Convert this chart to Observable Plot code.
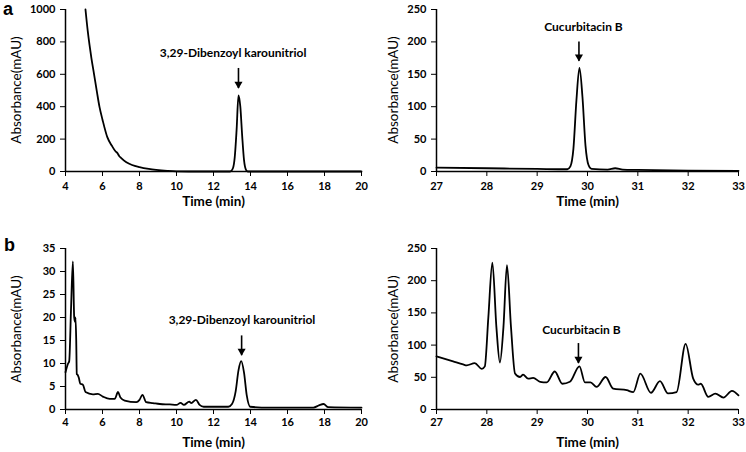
<!DOCTYPE html>
<html><head><meta charset="utf-8">
<script src="https://cdn.jsdelivr.net/npm/d3@7"></script>
<script src="https://cdn.jsdelivr.net/npm/@observablehq/plot@0.6"></script>
<style>
body{margin:0;background:#fff;}
#wrap{position:relative;width:746px;height:452px;overflow:hidden;background:#fff;}
.panel{position:absolute;}
.letter{position:absolute;font-weight:bold;font-size:18px;font-family:"Liberation Sans",Arial,sans-serif;line-height:1;}
.ylab{position:absolute;white-space:nowrap;font-family:Lato,'Open Sans',sans-serif;font-size:13.5px;line-height:1;transform:translate(-50%,-50%) rotate(-90deg);}
</style></head><body><div id="wrap"></div>
<script>
// ---- data: [time (min), absorbance (mAU)] ----
const traceA1 = [[5.08,1000],[5.2,870],[5.3,780],[5.4,700],[5.54,603],[5.7,490],[5.84,397],[6.0,320],[6.26,212],[6.5,160],[6.7,125],[6.8,115],[6.9,96],[7.0,84],[7.29,57],[7.6,40],[8.0,27],[8.5,16],[8.9,10],[9.5,4],[10,1],[11,0],[12.9,0],[13.05,20],[13.15,90],[13.25,260],[13.35,470],[13.45,400],[13.55,220],[13.65,70],[13.75,12],[13.85,0],[20,0]];
const traceA2 = [[27,6],[28,5],[29,4],[29.6,3.5],[29.66,8],[29.72,35],[29.78,110],[29.84,160],[29.9,115],[29.96,40],[30.02,10],[30.08,4],[30.4,3],[30.55,5],[30.7,3],[31,2.5],[32,1.5],[33,1]];
const traceB1 = [[4,8.1],[4.13,9.9],[4.2,10.5],[4.3,22],[4.4,32.2],[4.47,20],[4.52,19],[4.54,20],[4.58,15],[4.61,7.7],[4.66,7.5],[4.72,6.9],[4.8,5.6],[4.94,5.4],[5.08,3.8],[5.48,3.3],[5.75,3.4],[6.02,2.8],[6.39,2.3],[6.66,2.3],[6.84,3.8],[6.97,2.6],[7.2,1.95],[7.83,1.6],[8.0,2.1],[8.16,3.2],[8.36,1.6],[8.73,1.4],[9.1,1.2],[9.64,1.1],[10.0,1.0],[10.22,1.45],[10.4,1.0],[10.69,1.7],[10.8,1.4],[11.05,2.1],[11.25,1.0],[11.47,0.6],[12.8,0.6],[13.0,1.2],[13.2,4],[13.35,8.5],[13.5,10.5],[13.65,8],[13.8,3],[13.98,0.6],[15,0.4],[17.4,0.4],[17.7,0.9],[17.95,1.2],[18.2,0.5],[20,0.4]];
const traceB2 = [[27,82.5],[27.33,74.7],[27.53,70],[27.6,68.6],[27.76,72],[27.9,63],[27.96,67],[28.03,143],[28.11,228],[28.19,128],[28.26,73],[28.33,128],[28.4,224],[28.48,128],[28.56,56],[28.66,50.5],[28.72,54],[28.82,48],[28.92,49],[29.06,43],[29.19,42],[29.35,59],[29.5,40],[29.65,43],[29.84,67],[29.95,42],[30.06,42],[30.18,35],[30.36,50.5],[30.51,32.5],[30.78,30],[30.91,27],[31.05,55.7],[31.26,26],[31.44,44],[31.6,25],[31.77,27],[31.95,102],[32.1,48],[32.2,38.6],[32.25,40],[32.4,19.6],[32.54,24.7],[32.7,18.5],[32.87,29],[33,22]];

const xTicksEarly = [4,6,8,10,12,14,16,18,20];
const xTicksLate = [27,28,29,30,31,32,33];
const yTicksA1 = [0,200,400,600,800,1000];
const yTicksA2 = [0,50,100,150,200,250];
const yTicksB1 = [0,5,10,15,20,25,30,35];
const yTicksB2 = [0,50,100,150,200,250];

const compoundEarly = "3,29-Dibenzoyl karounitriol";
const compoundLate = "Cucurbitacin B";
const xLabel = "Time (min)";
const yLabel = "Absorbance(mAU)";

// annotation anchor values (data units): label, x, text x/y, arrow top, arrow tip
const annotA1 = {label: compoundEarly, x: 13.35, tx: 13.06, ty: 730, top: 636, tip: 512};
const annotA2 = {label: compoundLate, x: 29.83, tx: 29.92, ty: 222, top: 200, tip: 170};
const annotB1 = {label: compoundEarly, x: 13.52, tx: 13.54, ty: 19.5, top: 16.0, tip: 11.7};
const annotB2 = {label: compoundLate, x: 29.82, tx: 29.88, ty: 122.6, top: 102.4, tip: 71.4};

const wrap = document.getElementById("wrap");
const FONT = "Lato, 'Open Sans', sans-serif";

function panel({trace, xDomain, xTicks, yDomain, yTicks, left, top, width, height, mL, mR, mT, mB, yLabX, xLabDy, xPad, annot}) {
  const rows = trace.map(([t, a]) => ({t, a}));
  const chart = Plot.plot({
    width, height,
    marginLeft: mL, marginRight: mR, marginTop: mT, marginBottom: mB,
    style: {fontFamily: FONT, fontSize: "11px", fontWeight: "bold", color: "black", background: "white", overflow: "visible"},
    x: {domain: xDomain, ticks: xTicks, tickFormat: d => String(d), tickSize: 5, tickPadding: xPad, label: null},
    y: {domain: yDomain, ticks: yTicks, tickFormat: d => String(d), tickSize: 5, tickPadding: 5, label: null},
    marks: [
      Plot.ruleX([xDomain[0]], {stroke: "black", strokeWidth: 1.5}),
      Plot.ruleY([0], {stroke: "black", strokeWidth: 1.5}),
      Plot.line(rows, {x: "t", y: "a", stroke: "black", strokeWidth: 1.8, curve: "monotone-x"}),
      Plot.ruleX([annot], {x: "x", y1: "top", y2: "tip", stroke: "black", strokeWidth: 1.6}),
      Plot.dot([annot], {x: "x", y: "tip", symbol: "triangle", r: 3, fill: "black", stroke: "none", rotate: 180, dy: -4.5}),
      Plot.text([annot], {x: "tx", y: "ty", text: "label", fontWeight: "bold", fontSize: 12, fill: "black"}),
      Plot.text([xLabel], {frameAnchor: "bottom", dy: xLabDy, fontSize: 13.5, fontWeight: "bold", fill: "black"})
    ]
  });
  const d = document.createElement("div");
  d.className = "panel";
  d.style.left = left + "px";
  d.style.top = top + "px";
  d.appendChild(chart);
  wrap.appendChild(d);
  const yl = document.createElement("div");
  yl.className = "ylab";
  yl.textContent = yLabel;
  yl.style.left = (left + yLabX) + "px";
  yl.style.top = (top + mT + (height - mT - mB) / 2) + "px";
  wrap.appendChild(yl);
}

panel({trace: traceA1, xDomain: [4, 20], xTicks: xTicksEarly, yDomain: [0, 1000], yTicks: yTicksA1,
  left: 0, top: 0, width: 373, height: 215, mL: 65, mR: 12, mT: 9, mB: 44, yLabX: 17, xLabDy: 34, xPad: 6, annot: annotA1});
panel({trace: traceA2, xDomain: [27, 33], xTicks: xTicksLate, yDomain: [0, 250], yTicks: yTicksA2,
  left: 373, top: 0, width: 373, height: 215, mL: 63, mR: 8, mT: 9, mB: 44, yLabX: 21, xLabDy: 34, xPad: 6, annot: annotA2});
panel({trace: traceB1, xDomain: [4, 20], xTicks: xTicksEarly, yDomain: [0, 35], yTicks: yTicksB1,
  left: 0, top: 215, width: 373, height: 237, mL: 65, mR: 12, mT: 33, mB: 43, yLabX: 17, xLabDy: 37, xPad: 4, annot: annotB1});
panel({trace: traceB2, xDomain: [27, 33], xTicks: xTicksLate, yDomain: [0, 250], yTicks: yTicksB2,
  left: 373, top: 215, width: 373, height: 237, mL: 63, mR: 8, mT: 33, mB: 43, yLabX: 21, xLabDy: 37, xPad: 4, annot: annotB2});

for (const [txt, l, t] of [["a", 3, 0], ["b", 4, 236]]) {
  const el = document.createElement("div");
  el.className = "letter";
  el.textContent = txt;
  el.style.left = l + "px";
  el.style.top = t + "px";
  wrap.appendChild(el);
}
</script></body></html>
